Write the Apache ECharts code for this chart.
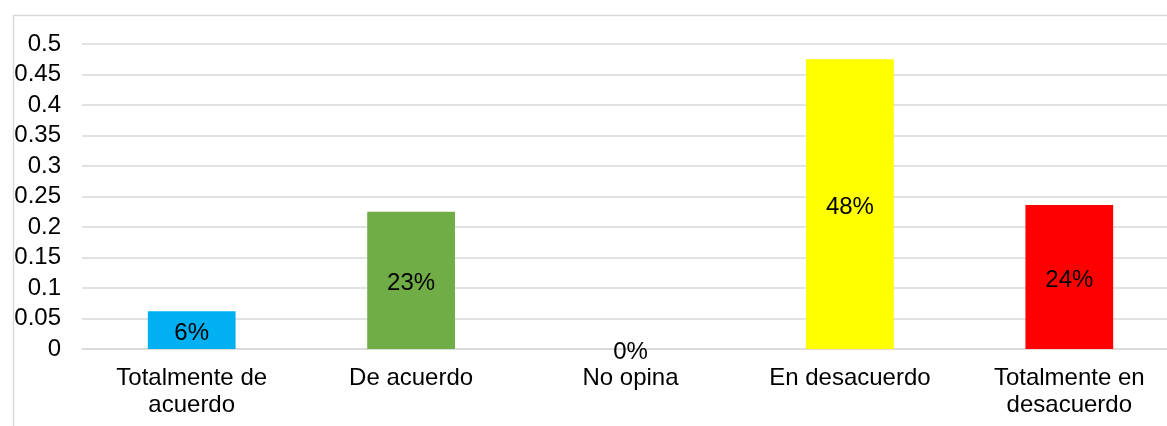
<!DOCTYPE html>
<html>
<head>
<meta charset="utf-8">
<script src="https://cdn.jsdelivr.net/npm/echarts@6/dist/echarts.min.js"></script>
<style>
  html, body { margin: 0; padding: 0; background: #fff; overflow: hidden; }
  /* the reference is cropped on the right, so the chart is a bit wider than the window */
  #main { width: 1190px; height: 426px; }
</style>
</head>
<body>
<div id="main"></div>
<script>
// categories and values
var categories = ["Totalmente de\nacuerdo", "De acuerdo", "No opina", "En desacuerdo", "Totalmente en\ndesacuerdo"];
var values = [0.062, 0.225, 0, 0.475, 0.236];
var barLabels = ["6%", "23%", "0%", "48%", "24%"];
var barColors = ["#00b0f0", "#70ad47", "#ffff00", "#ffff00", "#ff0000"];

var font = "Liberation Sans, Arial, sans-serif";

var myChart = echarts.init(document.getElementById("main"));

var option = {
  animation: false,
  graphic: [
    {
      type: "rect",
      left: 11,
      top: 13,
      shape: { width: 1300, height: 600 },
      style: { fill: "none", stroke: "#d9d9d9", lineWidth: 1.5 },
      silent: true,
    },
  ],
  grid: {
    left: 82,
    right: 11,
    top: 44,
    bottom: 77,
    containLabel: false,
  },
  xAxis: {
    type: "category",
    data: categories,
    axisTick: { show: false },
    axisLine: { show: true, lineStyle: { color: "#d9d9d9", width: 1.5 } },
    axisLabel: {
      color: "#000",
      fontFamily: font,
      fontSize: 24,
      lineHeight: 27,
      margin: 16,
      interval: 0,
    },
  },
  yAxis: {
    type: "value",
    min: 0,
    max: 0.5,
    interval: 0.05,
    axisLine: { show: false },
    axisTick: { show: false },
    splitLine: { lineStyle: { color: "#d9d9d9", width: 1.5 } },
    axisLabel: {
      color: "#000",
      fontFamily: font,
      fontSize: 24,
      margin: 21,
      formatter: function (v) {
        return String(+v.toFixed(2));
      },
    },
  },
  series: [
    {
      type: "bar",
      barCategoryGap: "60%",
      data: values.map(function (v, i) {
        return { value: v, itemStyle: { color: barColors[i] } };
      }),
      label: {
        show: true,
        position: "inside",
        offset: [0, 3],
        color: "#000",
        fontFamily: font,
        fontSize: 24,
        formatter: function (p) {
          return barLabels[p.dataIndex];
        },
      },
    },
  ],
};

option && myChart.setOption(option);
</script>
</body>
</html>
